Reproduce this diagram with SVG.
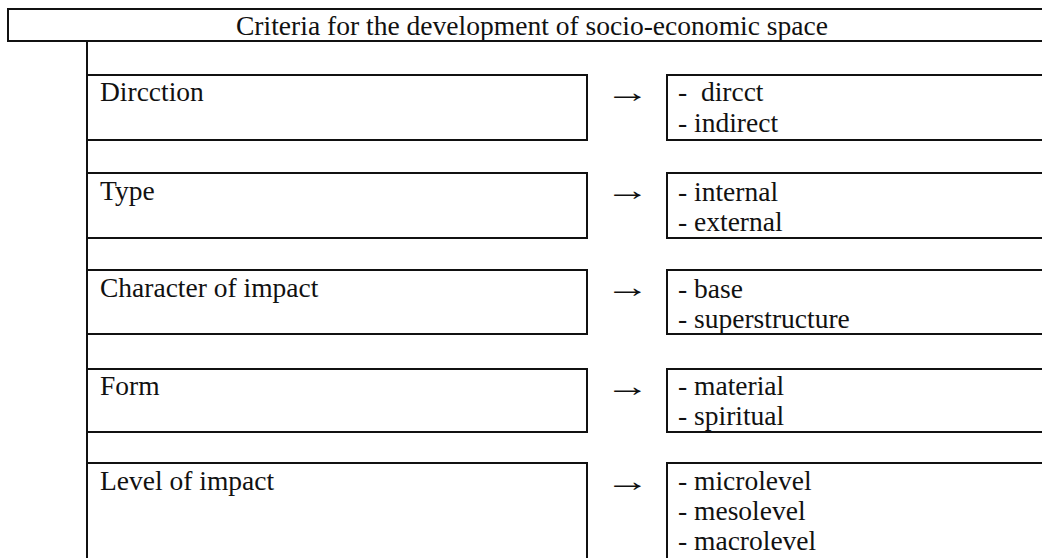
<svg xmlns="http://www.w3.org/2000/svg" width="1042" height="558" viewBox="0 0 1042 558">
  <style>
    .box { fill: #ffffff; stroke: #111111; stroke-width: 2; }
    .line { fill: none; stroke: #111111; stroke-width: 2; }
    .t { font-family: "Liberation Serif", "Times New Roman", serif; font-size: 27.5px; fill: #111111; white-space: pre; }
    .arrow { font-family: "Liberation Serif", "Times New Roman", serif; font-size: 30px; fill: #111111; }
  </style>
  <rect width="1042" height="558" fill="#ffffff"/>

  <!-- title bar -->
  <g id="title">
    <rect class="box" x="8" y="9" width="1050" height="32"/>
    <text class="t" x="236" y="35" textLength="592" lengthAdjust="spacingAndGlyphs">Criteria for the development of socio-economic space</text>
  </g>

  <!-- connectors: spine and arrows (arrow glyphs stretched horizontally) -->
  <g id="connectors">
    <line class="line" x1="87" y1="41" x2="87" y2="560"/>
    <text class="arrow" transform="translate(605 102) scale(1.5 1)">→</text>
    <text class="arrow" transform="translate(605 200) scale(1.5 1)">→</text>
    <text class="arrow" transform="translate(605 297) scale(1.5 1)">→</text>
    <text class="arrow" transform="translate(605 396) scale(1.5 1)">→</text>
    <text class="arrow" transform="translate(605 491) scale(1.5 1)">→</text>
  </g>

  <!-- criterion boxes -->
  <g id="direction">
    <rect class="box" x="87" y="75" width="500" height="65"/>
    <text class="t" x="100" y="101">Dircction</text>
  </g>
  <g id="direction-values">
    <rect class="box" x="667" y="75" width="390" height="65"/>
    <text class="t" x="678" y="101">-  dircct</text>
    <text class="t" x="678" y="132">- indirect</text>
  </g>

  <g id="type">
    <rect class="box" x="87" y="173" width="500" height="65"/>
    <text class="t" x="100" y="200">Type</text>
  </g>
  <g id="type-values">
    <rect class="box" x="667" y="173" width="390" height="65"/>
    <text class="t" x="678" y="201">- internal</text>
    <text class="t" x="678" y="231">- external</text>
  </g>

  <g id="character">
    <rect class="box" x="87" y="270" width="500" height="64"/>
    <text class="t" x="100" y="297">Character of impact</text>
  </g>
  <g id="character-values">
    <rect class="box" x="667" y="270" width="390" height="64"/>
    <text class="t" x="678" y="298">- base</text>
    <text class="t" x="678" y="328">- superstructure</text>
  </g>

  <g id="form">
    <rect class="box" x="87" y="369" width="500" height="63"/>
    <text class="t" x="100" y="395">Form</text>
  </g>
  <g id="form-values">
    <rect class="box" x="667" y="369" width="390" height="63"/>
    <text class="t" x="678" y="395">- material</text>
    <text class="t" x="678" y="425">- spiritual</text>
  </g>

  <g id="level">
    <rect class="box" x="87" y="463" width="500" height="110"/>
    <text class="t" x="100" y="490">Level of impact</text>
  </g>
  <g id="level-values">
    <rect class="box" x="667" y="463" width="390" height="110"/>
    <text class="t" x="678" y="490">- microlevel</text>
    <text class="t" x="678" y="520">- mesolevel</text>
    <text class="t" x="678" y="550">- macrolevel</text>
  </g>
</svg>
